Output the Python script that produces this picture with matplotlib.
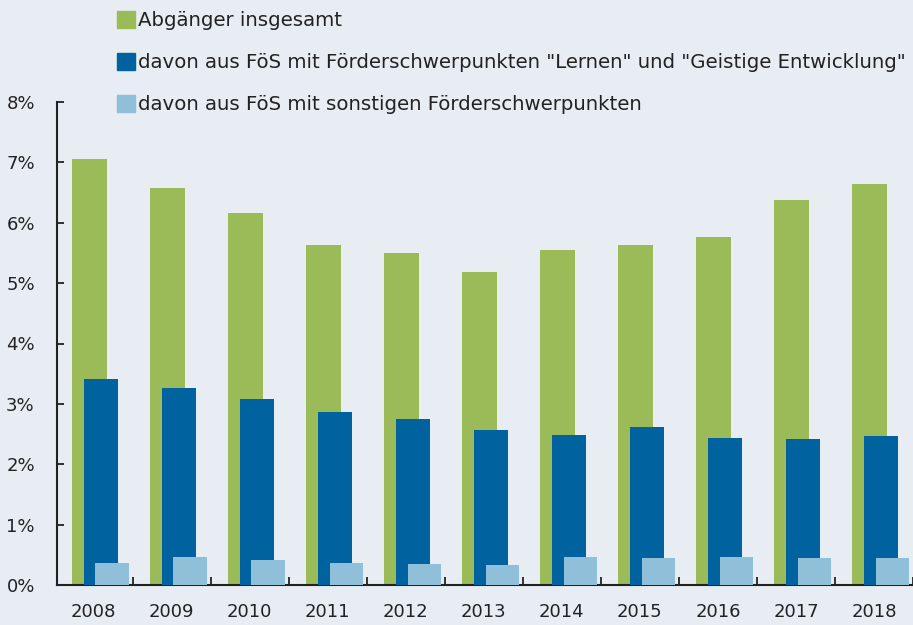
import matplotlib
matplotlib.use("Agg")
import matplotlib.pyplot as plt
from matplotlib.patches import Patch
import numpy as np

years = ["2008", "2009", "2010", "2011", "2012", "2013", "2014", "2015", "2016", "2017", "2018"]
total = [7.05, 6.57, 6.16, 5.63, 5.50, 5.18, 5.55, 5.63, 5.76, 6.38, 6.64]
learn_mental = [3.42, 3.26, 3.08, 2.86, 2.75, 2.57, 2.49, 2.62, 2.43, 2.41, 2.46]
other = [0.37, 0.47, 0.42, 0.37, 0.34, 0.33, 0.47, 0.44, 0.47, 0.44, 0.44]
labels = ["Abgänger insgesamt",
          'davon aus FöS mit Förderschwerpunkten "Lernen" und "Geistige Entwicklung"',
          "davon aus FöS mit sonstigen Förderschwerpunkten"]
yticks = [0, 1, 2, 3, 4, 5, 6, 7, 8]
ytick_labels = ["0%", "1%", "2%", "3%", "4%", "5%", "6%", "7%", "8%"]

BG = "#e8edf3"
GREEN = "#9bbb59"
DBLUE = "#0063a0"
LBLUE = "#8fbfd9"
TXT = "#222222"

plt.rcParams['font.family'] = ['DejaVu Sans']

fig = plt.figure(figsize=(9.13, 6.25), dpi=100, facecolor=BG)
ax = fig.add_axes([57/913, 40/625, 1 - 57/913, (585-102)/625])
ax.set_facecolor(BG)

x = np.arange(len(years))
ax.bar(x - 0.056, total, width=0.447, color=GREEN, zorder=2)
ax.bar(x + 0.094, learn_mental, width=0.434, color=DBLUE, zorder=3)
ax.bar(x + 0.237, other, width=0.429, color=LBLUE, zorder=4)

ax.set_ylim(0, 8)
ax.set_xlim(-0.47, 10.457)
ax.set_yticks(yticks)
ax.set_yticklabels(ytick_labels)
ax.set_xticks(x)
ax.set_xticklabels(years)
ax.set_xticks(x + 0.5, minor=True)

for s in ["top", "right"]:
    ax.spines[s].set_visible(False)
for s in ["left", "bottom"]:
    ax.spines[s].set_color(TXT)
    ax.spines[s].set_linewidth(1.5)

ax.tick_params(axis="y", direction="in", length=5, width=1.3, color=TXT,
               labelsize=13, labelcolor=TXT, pad=16)
ax.tick_params(axis="x", which="major", length=0, labelsize=13, labelcolor=TXT, pad=13)
ax.tick_params(axis="x", which="minor", direction="in", length=6, width=1.3, color=TXT)

handles = [Patch(color=GREEN), Patch(color=DBLUE), Patch(color=LBLUE)]
leg = fig.legend(handles, labels, loc="upper left",
                 bbox_to_anchor=(117/913, 1 - 11/625), frameon=False,
                 fontsize=14.2, labelcolor=TXT, handlelength=0.92, handleheight=0.92,
                 handletextpad=0.15, labelspacing=1.16, borderpad=0, borderaxespad=0)

fig.savefig("out.png", dpi=100, facecolor=BG)
